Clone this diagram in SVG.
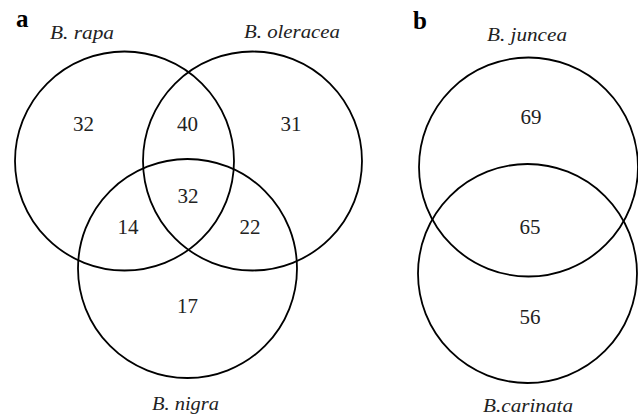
<svg xmlns="http://www.w3.org/2000/svg" width="638" height="417" viewBox="0 0 638 417">
<style>
.c{fill:none;stroke:#000;stroke-width:1.8}
.n{font-family:"Liberation Serif","Times New Roman",serif;font-size:21px;text-anchor:middle;fill:#222}
.l{font-family:"Liberation Serif","Times New Roman",serif;font-size:19px;font-style:italic;fill:#222}
.p{font-family:"Liberation Serif","Times New Roman",serif;font-size:25px;font-weight:bold;fill:#000}
</style>
<rect width="638" height="417" fill="#fff"/>
<g id="panel-a">
<text class="p" x="16" y="27">a</text>
<g id="rapa"><circle class="c" cx="124.5" cy="161" r="109.5"/><text class="l" x="50" y="39" textLength="64" lengthAdjust="spacingAndGlyphs">B. rapa</text></g>
<g id="oleracea"><circle class="c" cx="252.5" cy="161" r="109.5"/><text class="l" x="244" y="38" textLength="96" lengthAdjust="spacingAndGlyphs">B. oleracea</text></g>
<g id="nigra"><circle class="c" cx="187.5" cy="268.5" r="109.5"/><text class="l" x="152" y="410" textLength="67" lengthAdjust="spacingAndGlyphs">B. nigra</text></g>
<g id="counts-a">
<text class="n" x="83.5" y="131">32</text>
<text class="n" x="187.5" y="131">40</text>
<text class="n" x="291" y="131">31</text>
<text class="n" x="188" y="203">32</text>
<text class="n" x="128" y="234">14</text>
<text class="n" x="250" y="234">22</text>
<text class="n" x="187.5" y="313">17</text>
</g>
</g>
<g id="panel-b">
<text class="p" x="413" y="29">b</text>
<g id="juncea"><circle class="c" cx="528.5" cy="167" r="109.5"/><text class="l" x="487" y="41" textLength="80" lengthAdjust="spacingAndGlyphs">B. juncea</text></g>
<g id="carinata"><circle class="c" cx="527.5" cy="273.5" r="109.5"/><text class="l" x="483" y="412" textLength="90" lengthAdjust="spacingAndGlyphs">B.carinata</text></g>
<g id="counts-b">
<text class="n" x="531" y="124">69</text>
<text class="n" x="530" y="234">65</text>
<text class="n" x="530" y="324">56</text>
</g>
</g>
<g id="connectors"/>
</svg>
